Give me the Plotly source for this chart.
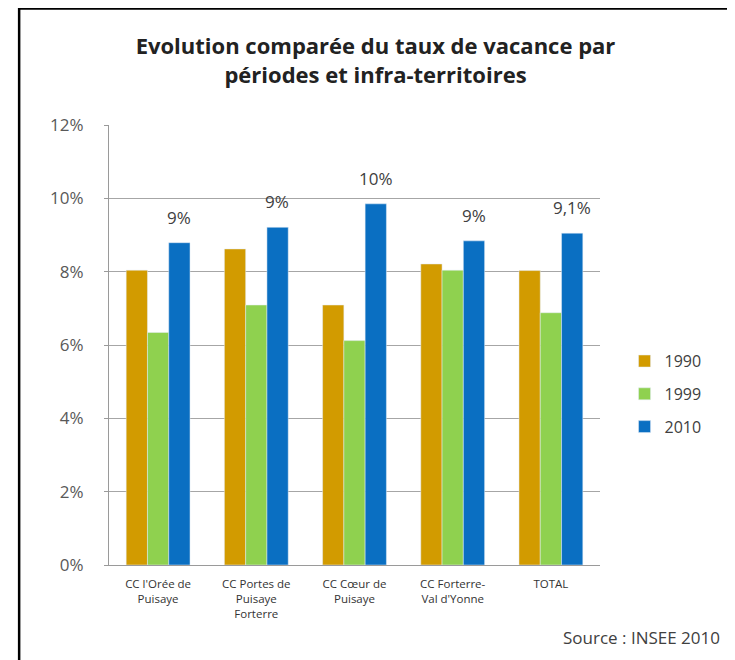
import plotly.graph_objects as go

# territoires (x axis)
categories = [
    "CC l'Orée de<br>Puisaye",
    "CC Portes de<br>Puisaye<br>Forterre",
    "CC Cœur de<br>Puisaye",
    "CC Forterre-<br>Val d'Yonne",
    "TOTAL",
]

# taux de vacance en %
taux_1990 = [8.04, 8.62, 7.09, 8.21, 8.03]
taux_1999 = [6.34, 7.09, 6.12, 8.04, 6.88]
taux_2010 = [8.79, 9.21, 9.85, 8.84, 9.05]

labels_2010 = ["9%", "9%", "10%", "9%", "9,1%"]

y_ticks = [0, 2, 4, 6, 8, 10, 12]
y_tick_labels = ["0%", "2%", "4%", "6%", "8%", "10%", "12%"]

fig = go.Figure()

fig.add_trace(go.Bar(x=categories, y=taux_1990, name="1990",
                     marker_color="#D29B00", legendgroup="a"))
fig.add_trace(go.Bar(x=categories, y=taux_1999, name="1999",
                     marker_color="#8FD14F", legendgroup="b"))
fig.add_trace(go.Bar(x=categories, y=taux_2010, name="2010",
                     marker_color="#0A6FC2", legendgroup="c"))

# labels above the 2010 bars
for cat, val, lab in zip(categories, taux_2010, labels_2010):
    fig.add_annotation(x=cat, y=val, text=lab, showarrow=False,
                       xref="x", yref="y", xshift=21, yshift=12,
                       yanchor="bottom",
                       font=dict(size=17, color="#404040"))

# source
fig.add_annotation(x=1.258, y=-0.164, xref="paper", yref="paper",
                   text="Source : INSEE 2010", showarrow=False,
                   xanchor="right", yanchor="middle",
                   bgcolor="white", borderpad=6,
                   font=dict(size=17, color="#404040", family="Open Sans"))

# black frame around the chart
fig.add_shape(type="rect", xref="paper", yref="paper",
              x0=-0.183, x1=1.272, y0=-0.3, y1=1.265,
              line=dict(color="black", width=2.5), layer="below")

fig.update_layout(
    width=735, height=660,
    margin=dict(l=101, r=143, t=117, b=103),
    paper_bgcolor="white",
    plot_bgcolor="white",
    font=dict(family="Open Sans", color="#404040"),
    title=dict(
        text="Evolution comparée du taux de vacance par<br>périodes et infra-territoires",
        x=0.5, xanchor="center", y=0.93, yanchor="middle",
        font=dict(size=22, color="#222222", family="Open Sans", weight="bold"),
    ),
    barmode="group",
    bargap=0.35,
    bargroupgap=0,
    showlegend=True,
    legend=dict(x=1.05, y=0.502, xanchor="left", yanchor="top",
                font=dict(size=16, color="#404040"),
                traceorder="grouped", tracegroupgap=9,
                bgcolor="rgba(0,0,0,0)"),
    xaxis=dict(showline=True, linecolor="#9a9a9a", linewidth=1,
               tickfont=dict(size=11.5, color="#333333"),
               ticks="", showgrid=False, ticklabelstandoff=8),
    yaxis=dict(range=[0, 12], tickvals=y_ticks, ticktext=y_tick_labels,
               showline=True, linecolor="#9a9a9a", linewidth=1,
               ticks="outside", ticklen=4, tickcolor="#9a9a9a",
               gridcolor="#a6a6a6", gridwidth=1,
               tickfont=dict(size=17, color="#595959"),
               ticklabelstandoff=17, zeroline=False),
)

fig.write_html("out.html")
